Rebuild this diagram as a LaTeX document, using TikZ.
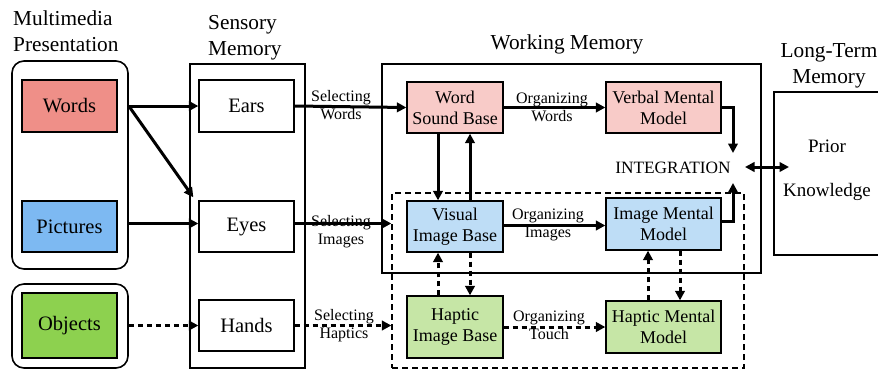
\documentclass[tikz,border=0pt]{standalone}
\usepackage{fontspec}
\setmainfont{Liberation Serif}
\usetikzlibrary{arrows.meta,calc}
\definecolor{cwords}{RGB}{239,143,136}
\definecolor{cpics}{RGB}{125,185,242}
\definecolor{cobj}{RGB}{141,209,79}
\definecolor{cpink}{RGB}{248,203,200}
\definecolor{cblue}{RGB}{190,221,246}
\definecolor{cgreen}{RGB}{198,230,166}
\tikzset{
  container/.style={draw, line width=1.6pt, rounded corners=12pt, inner sep=0pt},
  plainbox/.style={draw, line width=1.3pt, inner sep=0pt},
  bigbox/.style={draw, line width=1.3pt, minimum width=95pt, inner sep=0pt, font=\fontsize{20.5}{24}\selectfont},
  wmbox/.style={draw, line width=1.3pt, inner sep=0pt, align=center, font=\fontsize{18}{21}\selectfont},
  title/.style={font=\fontsize{21.3}{26}\selectfont, inner sep=0pt},
  lbl/.style={font=\fontsize{16}{18}\selectfont, align=center, inner sep=0pt},
  arr/.style={line width=3pt, -{Triangle[length=9.5pt,width=9.5pt]}},
  darr/.style={arr, dash pattern=on 5pt off 4pt},
  dblarr/.style={line width=3pt, {Triangle[length=9.5pt,width=9.5pt]}-{Triangle[length=9.5pt,width=9.5pt]}},
}
\begin{document}
\begin{tikzpicture}[x=1pt,y=-1pt]
\useasboundingbox (0,0) rectangle (878,370);
\clip (0,0) rectangle (878,370);
\fill[white] (0,0) rectangle (878,370);

% titles
\node[title, anchor=west, align=left] (tmm) at (13,31) {Multimedia\\Presentation};
\node[title, anchor=west, align=left] (tsm) at (208,37.5) {Sensory\\Memory};
\node[title] (twm) at (567,44) {Working Memory};
\node[title, align=center] (tltm) at (829,66) {Long-Term\\Memory};

% containers
\node[container, minimum width=116pt, minimum height=208pt] (mm) at (70,165) {};
\node[container, minimum width=116pt, minimum height=84pt] (ob) at (70,326) {};
\node[plainbox, minimum width=115pt, minimum height=304pt] (sm) at (247.5,216) {};
\node[plainbox, minimum width=379pt, minimum height=209pt] (wm) at (571.5,168.5) {};
\node[draw, line width=1.3pt, dash pattern=on 6pt off 4pt, minimum width=352pt, minimum height=175pt, inner sep=0pt] (dbox) at (568,280.5) {};
\node[plainbox, minimum width=126pt, minimum height=163pt] (ltm) at (837,173.5) {};

% multimedia
\node[bigbox, fill=cwords, minimum height=52pt] (words) at (69.5,106) {Words};
\node[bigbox, fill=cpics, minimum height=51pt] (pictures) at (69.5,226.5) {Pictures};
\node[bigbox, fill=cobj, minimum height=65pt] (objects) at (69.5,325.5) {Objects};

% sensory
\node[bigbox, minimum height=52pt] (ears) at (246.5,106) {Ears};
\node[bigbox, minimum height=51pt] (eyes) at (246.5,226.5) {Eyes};
\node[bigbox, minimum height=51pt] (hands) at (246.5,325.5) {Hands};

% working memory
\node[wmbox, fill=cpink, minimum width=96pt, minimum height=51pt] (wsb) at (455,107.5) {Word\\Sound Base};
\node[wmbox, fill=cblue, minimum width=96pt, minimum height=51pt] (vib) at (455,226.5) {Visual\\Image Base};
\node[wmbox, fill=cgreen, minimum width=96pt, minimum height=62pt] (hib) at (455,327) {Haptic\\Image Base};
\node[wmbox, fill=cpink, minimum width=115pt, minimum height=51pt] (vmm) at (663.5,107.5) {Verbal Mental\\Model};
\node[wmbox, fill=cblue, minimum width=115pt, minimum height=52pt] (imm) at (663.5,224) {Image Mental\\Model};
\node[wmbox, fill=cgreen, minimum width=115pt, minimum height=52pt] (hmm) at (663.5,327) {Haptic Mental\\Model};
\node[font=\fontsize{17.3}{20}\selectfont, inner sep=0pt] (integ) at (673,168) {INTEGRATION};

% long-term memory text
\node[font=\fontsize{19}{22}\selectfont, inner sep=0pt] (prior) at (827,146) {Prior};
\node[font=\fontsize{19}{22}\selectfont, inner sep=0pt] (know) at (827,192) {Knowledge};

% coordinates
\coordinate (eyestip) at ($(eyes.north west)+(-5,-3)$);
\coordinate (intTop) at (733,153);
\coordinate (intBot) at (733,183);
\coordinate (dl) at (745,167);
\coordinate (dr) at (789,167);

% input arrows
\draw[arr] (words.east -| mm.east) -- (ears.west);
\draw[arr] (words.east -| mm.east) -- (eyestip);
\draw[arr] ([yshift=3pt]pictures.east -| mm.east) -- ([yshift=3pt]eyes.west);
\draw[darr] (objects.east -| ob.east) -- (hands.west);

% selecting
\draw[arr] (ears.east) -- (wsb.west);
\node[lbl] (lsw) at (341,105) {Selecting\\Words};
\draw[arr] ([yshift=3pt]eyes.east) -- ([yshift=3pt]eyes.east -| dbox.west);
\node[lbl] (lsi) at (341,231.5) {Selecting\\Images};
\draw[darr] (hands.east) -- (hands.east -| dbox.west);
\node[lbl] (lsh) at (344,326) {Selecting\\Haptics};

% organizing
\draw[arr] (wsb.east) -- (vmm.west);
\node[lbl] (low) at (552,107.5) {Organizing\\Words};
\draw[arr] ([yshift=1pt]vib.east) -- ([yshift=1pt]vib.east -| imm.west);
\node[lbl] (loi) at (548,225) {Organizing\\Images};
\draw[darr] (hib.east) -- (hmm.west);
\node[lbl] (lot) at (549,325.5) {Organizing\\Touch};

% verticals
\draw[arr] ([xshift=-17pt]wsb.south) -- ([xshift=-17pt]vib.north);
\draw[arr] ([xshift=15pt]vib.north) -- ([xshift=15pt]wsb.south);
\draw[darr] ([xshift=-17pt]hib.north) -- ([xshift=-17pt]vib.south);
\draw[darr] ([xshift=15pt]vib.south) -- ([xshift=15pt]hib.north);
\draw[darr] ([xshift=-15.5pt]hmm.north) -- ([xshift=-15.5pt]imm.south);
\draw[darr] ([xshift=16.5pt]imm.south) -- ([xshift=16.5pt]hmm.north);

% integration
\draw[arr] (vmm.east) -| (intTop);
\draw[arr] ([yshift=3pt]imm.east) -| (intBot);
\draw[dblarr] (dl) -- (dr);
\end{tikzpicture}
\end{document}
